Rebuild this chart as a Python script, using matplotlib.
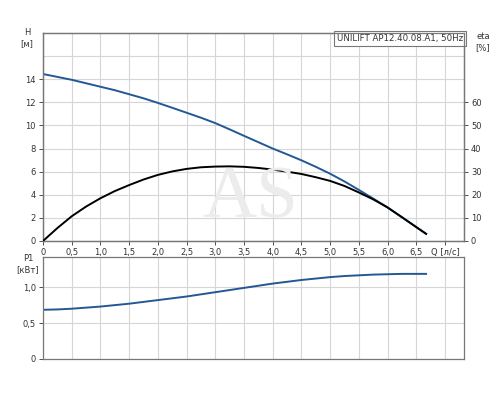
import matplotlib.pyplot as plt
from matplotlib.ticker import FixedLocator

# values
q = [0, 0.25, 0.5, 0.75, 1.0, 1.25, 1.5, 1.75, 2.0, 2.25, 2.5, 2.75, 3.0, 3.25,
     3.5, 3.75, 4.0, 4.25, 4.5, 4.75, 5.0, 5.25, 5.5, 5.75, 6.0, 6.25, 6.5, 6.67]
head = [14.45, 14.2, 13.95, 13.65, 13.35, 13.05, 12.7, 12.35, 11.95, 11.53, 11.1,
        10.67, 10.2, 9.66, 9.1, 8.55, 8.0, 7.5, 6.98, 6.42, 5.82, 5.15, 4.42, 3.67,
        2.9, 2.05, 1.2, 0.62]
eta = [0, 5.6, 10.7, 14.9, 18.5, 21.6, 24.2, 26.6, 28.6, 30.1, 31.2, 31.9, 32.2,
       32.3, 32.1, 31.6, 30.9, 30.0, 29.0, 27.6, 26.0, 23.8, 21.0, 18.0, 14.5,
       10.3, 6.0, 3.1]
p1 = [0.685, 0.69, 0.70, 0.715, 0.73, 0.75, 0.77, 0.795, 0.82, 0.845, 0.87, 0.90,
      0.93, 0.96, 0.99, 1.02, 1.05, 1.075, 1.10, 1.12, 1.14, 1.155, 1.165, 1.175,
      1.18, 1.185, 1.185, 1.185]

q_ticks = [0, 0.5, 1.0, 1.5, 2.0, 2.5, 3.0, 3.5, 4.0, 4.5, 5.0, 5.5, 6.0, 6.5, 7.0]
q_labels = ['0', '0,5', '1,0', '1,5', '2,0', '2,5', '3,0', '3,5', '4,0', '4,5',
            '5,0', '5,5', '6,0', '6,5', 'Q [л/с]']
h_ticks = [0, 2, 4, 6, 8, 10, 12, 14]
eta_ticks = [0, 10, 20, 30, 40, 50, 60]
p_ticks = [0, 0.5, 1.0]
p_labels = ['0', '0,5', '1,0']
title = 'UNILIFT AP12.40.08.A1, 50Hz'

plt.rcParams['font.family'] = ['DejaVu Sans']
fs = 6
txt = '#333333'
spine_c = '#777777'
grid_c = '#d6d6d6'
blue = '#245894'

fig = plt.figure(figsize=(5, 4), dpi=100)
ax = fig.add_axes([0.086, 0.3975, 0.842, 0.52])
ax2 = ax.twinx()
axp = fig.add_axes([0.086, 0.1025, 0.842, 0.255])

# faint watermark
fig.text(0.5, 0.5, 'AS', fontsize=54, family='Liberation Serif', color='#ececec',
         ha='center', va='center', zorder=0)

# top chart
ax.set_xlim(0, 7.33)
ax.set_ylim(0, 18)
ax2.set_ylim(0, 90)
ax.set_xticks(q_ticks)
ax.set_xticklabels(q_labels)
ax.set_yticks(h_ticks)
ax.yaxis.set_minor_locator(FixedLocator([16]))
ax.xaxis.grid(True, color=grid_c, lw=0.8)
ax.yaxis.grid(True, which='both', color=grid_c, lw=0.8)
ax.set_axisbelow(True)
ax.patch.set_alpha(0)
ax.tick_params(labelsize=fs, colors=txt, length=3, width=0.6, pad=2)
ax.tick_params(which='minor', length=0)
ax2.set_yticks(eta_ticks)
ax2.tick_params(labelsize=fs, colors=txt, length=3, width=0.6, pad=2)

ax.plot(q, head, color=blue, lw=1.4, zorder=3)
ax2.plot(q, eta, color='black', lw=1.4, zorder=3)

for a in (ax, ax2, axp):
    for s in a.spines.values():
        s.set_color(spine_c)
        s.set_linewidth(0.9)

ax.text(0.998, 0.995, title, transform=ax.transAxes, ha='right', va='top',
        fontsize=6.2, color=txt, zorder=5,
        bbox=dict(boxstyle='square,pad=0.3', fc='white', ec=spine_c, lw=0.8))

fig.text(0.054, 0.905, 'H\n[м]', fontsize=fs, color=txt, ha='center', va='center',
         linespacing=1.3)
fig.text(0.966, 0.895, 'eta\n[%]', fontsize=fs, color=txt, ha='center', va='center',
         linespacing=1.3)

# bottom chart
axp.set_xlim(0, 7.33)
axp.set_ylim(0, 1.42)
axp.set_xticks(q_ticks)
axp.set_xticklabels([])
axp.set_yticks(p_ticks)
axp.set_yticklabels(p_labels)
axp.grid(True, color=grid_c, lw=0.8)
axp.set_axisbelow(True)
axp.patch.set_alpha(0)
axp.tick_params(axis='y', labelsize=fs, colors=txt, length=3, width=0.6, pad=2)
axp.tick_params(axis='x', length=0)
axp.plot(q, p1, color=blue, lw=1.4)

fig.text(0.056, 0.34, 'P1\n[кВт]', fontsize=fs, color=txt, ha='center', va='center',
         linespacing=1.3)

fig.savefig('out.png', dpi=100)
